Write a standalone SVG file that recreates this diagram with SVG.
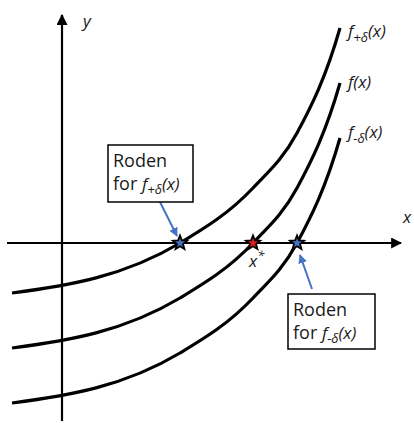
<svg xmlns="http://www.w3.org/2000/svg" width="414" height="423" viewBox="0 0 414 423">
<defs>
<style>
.axis{stroke:#000;stroke-width:2.2;fill:none}
.curve{stroke:#000;stroke-width:3.2;fill:none}
.ptr{stroke:#4472C4;stroke-width:2;fill:none}
.box{fill:#fff;stroke:#000;stroke-width:1.5}
.t{font-family:"Open Sans","Noto Sans",sans-serif;font-size:18px;fill:#1a1a1a}
.it{font-family:"Open Sans","Noto Sans",sans-serif;font-style:italic;font-size:17px;fill:#1a1a1a}
.sub{font-size:13px}
.star{stroke:#000;stroke-width:1.8;stroke-linejoin:miter}
</style>
<marker id="ah" viewBox="0 0 10 10" refX="9" refY="5" markerWidth="5" markerHeight="5" orient="auto" markerUnits="strokeWidth">
<path d="M0,0 L10,5 L0,10 Z" fill="#000"/>
</marker>
<marker id="bh" viewBox="0 0 10 10" refX="9" refY="5" markerWidth="4.5" markerHeight="4.5" orient="auto" markerUnits="strokeWidth">
<path d="M0,0 L10,5 L0,10 Z" fill="#4472C4"/>
</marker>
<path id="fpath" d="M12,348 C68,340.7 124,331.6 180,298 C204.3,283.4 228.7,268.8 253,243 C267.7,227.4 282.3,215.3 297,188 C311.3,161.4 325.7,133 340,83"/>
<polygon id="star" points="0,-7.5 1.9,-2.6 7.1,-2.3 3.05,1 4.4,6.05 0,3.2 -4.4,6.05 -3.05,1 -7.1,-2.3 -1.9,-2.6"/>
</defs>
<rect width="414" height="423" fill="#fff"/>
<g id="axes">
<line class="axis" x1="62" y1="421" x2="62" y2="15" marker-end="url(#ah)"/>
<line class="axis" x1="7" y1="243" x2="401" y2="243" marker-end="url(#ah)"/>
<text class="it" x="83" y="27">y</text>
<text class="it" x="403" y="223">x</text>
</g>
<g id="curves">
<use href="#fpath" class="curve" transform="translate(0,-55)"/>
<use href="#fpath" class="curve"/>
<use href="#fpath" class="curve" transform="translate(0,55)"/>
</g>
<g id="curve-labels">
<text class="it" x="348" y="37">f<tspan class="sub" dy="5">+δ</tspan><tspan dy="-5">(x)</tspan></text>
<text class="it" x="348" y="88">f(x)</text>
<text class="it" x="348" y="138">f<tspan class="sub" dy="5">-δ</tspan><tspan dy="-5">(x)</tspan></text>
</g>
<g id="connectors">
<line class="ptr" x1="160" y1="202" x2="177" y2="236" marker-end="url(#bh)"/>
<line class="ptr" x1="312" y1="289" x2="300" y2="255" marker-end="url(#bh)"/>
</g>
<g id="roots">
<use href="#star" class="star" x="180" y="243" fill="#4472C4"/>
<use href="#star" class="star" x="253" y="243" fill="#E02020"/>
<use href="#star" class="star" x="297" y="243" fill="#4472C4"/>
<text class="it" x="249" y="267">x<tspan font-size="13" dy="-7">*</tspan></text>
</g>
<g id="label-plus">
<rect class="box" x="108" y="145" width="85" height="57"/>
<text class="t" x="113" y="167">Roden</text>
<text class="t" x="113" y="190">for <tspan class="it" font-size="20">f</tspan><tspan class="it sub" dy="4">+δ</tspan><tspan class="it" font-size="18" dy="-4">(x)</tspan></text>
</g>
<g id="label-minus">
<rect class="box" x="288" y="294" width="87" height="55"/>
<text class="t" x="293" y="316">Roden</text>
<text class="t" x="293" y="339">for <tspan class="it" font-size="20">f</tspan><tspan class="it sub" dy="4">-δ</tspan><tspan class="it" font-size="18" dy="-4">(x)</tspan></text>
</g>
</svg>
